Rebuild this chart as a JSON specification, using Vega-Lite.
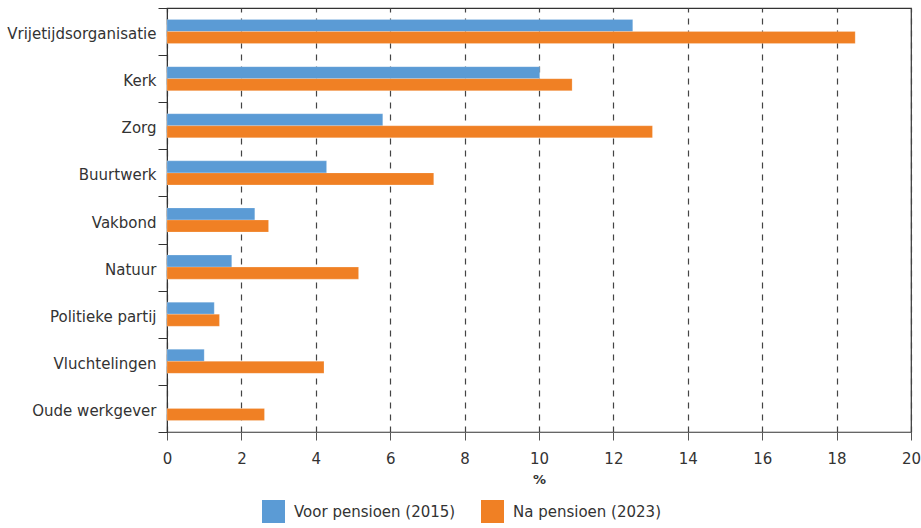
{
  "$schema": "https://vega.github.io/schema/vega-lite/v6.json",
  "autosize": {"type": "none"},
  "padding": {"left": 167, "top": 8, "right": 10, "bottom": 96},
  "width": 744,
  "height": 424,
  "background": "white",
  "config": {
    "font": "DejaVu Sans",
    "view": {"stroke": "#333", "strokeWidth": 1.2},
    "axis": {"labelColor": "#333", "titleColor": "#333", "labelFont": "DejaVu Sans", "titleFont": "DejaVu Sans"},
    "legend": {"labelFont": "DejaVu Sans"}
  },
  "data": {
    "values": [
      {"categorie": "Vrijetijdsorganisatie", "reeks": "Voor pensioen (2015)", "waarde": 12.52},
      {"categorie": "Vrijetijdsorganisatie", "reeks": "Na pensioen (2023)", "waarde": 18.5},
      {"categorie": "Kerk", "reeks": "Voor pensioen (2015)", "waarde": 10.02},
      {"categorie": "Kerk", "reeks": "Na pensioen (2023)", "waarde": 10.89},
      {"categorie": "Zorg", "reeks": "Voor pensioen (2015)", "waarde": 5.8},
      {"categorie": "Zorg", "reeks": "Na pensioen (2023)", "waarde": 13.05},
      {"categorie": "Buurtwerk", "reeks": "Voor pensioen (2015)", "waarde": 4.29},
      {"categorie": "Buurtwerk", "reeks": "Na pensioen (2023)", "waarde": 7.17},
      {"categorie": "Vakbond", "reeks": "Voor pensioen (2015)", "waarde": 2.36},
      {"categorie": "Vakbond", "reeks": "Na pensioen (2023)", "waarde": 2.73},
      {"categorie": "Natuur", "reeks": "Voor pensioen (2015)", "waarde": 1.74},
      {"categorie": "Natuur", "reeks": "Na pensioen (2023)", "waarde": 5.15},
      {"categorie": "Politieke partij", "reeks": "Voor pensioen (2015)", "waarde": 1.27},
      {"categorie": "Politieke partij", "reeks": "Na pensioen (2023)", "waarde": 1.41},
      {"categorie": "Vluchtelingen", "reeks": "Voor pensioen (2015)", "waarde": 1.0},
      {"categorie": "Vluchtelingen", "reeks": "Na pensioen (2023)", "waarde": 4.22},
      {"categorie": "Oude werkgever", "reeks": "Na pensioen (2023)", "waarde": 2.62}
    ]
  },
  "mark": {"type": "bar", "stroke": "white", "strokeOpacity": 0.4, "strokeWidth": 0.5},
  "encoding": {
    "y": {
      "field": "categorie",
      "type": "nominal",
      "sort": ["Vrijetijdsorganisatie", "Kerk", "Zorg", "Buurtwerk", "Vakbond", "Natuur", "Politieke partij", "Vluchtelingen", "Oude werkgever"],
      "scale": {"paddingInner": 0, "paddingOuter": 0},
      "axis": {
        "title": null,
        "tickBand": "extent",
        "tickSize": 9,
        "tickColor": "#333",
        "domainColor": "#333",
        "labelFontSize": 15,
        "labelPadding": 2,
        "labelOffset": 2,
        "grid": false
      }
    },
    "yOffset": {
      "field": "reeks",
      "type": "nominal",
      "sort": ["Voor pensioen (2015)", "Na pensioen (2023)"],
      "scale": {"paddingInner": 0, "paddingOuter": 0.96}
    },
    "x": {
      "field": "waarde",
      "type": "quantitative",
      "scale": {"domain": [0, 20], "nice": false},
      "axis": {
        "title": "%",
        "titleFontSize": 13,
        "titleFontWeight": "bold",
        "titlePadding": 7,
        "values": [0, 2, 4, 6, 8, 10, 12, 14, 16, 18, 20],
        "tickSize": 8,
        "tickColor": "#555",
        "domainColor": "#666",
        "labelFontSize": 15,
        "labelPadding": 11,
        "labelFlush": false,
        "grid": true,
        "gridDash": [6, 6],
        "gridColor": "#444",
        "gridWidth": 1.2
      }
    },
    "color": {
      "field": "reeks",
      "type": "nominal",
      "scale": {"domain": ["Voor pensioen (2015)", "Na pensioen (2023)"], "range": ["#5b9bd5", "#f08024"]},
      "legend": {
        "title": null,
        "orient": "none",
        "direction": "horizontal",
        "legendX": 95,
        "legendY": 492,
        "symbolType": "square",
        "symbolSize": 529,
        "symbolStrokeWidth": 0,
        "symbolOpacity": 1,
        "labelFontSize": 15,
        "labelColor": "#333",
        "labelOffset": 9,
        "labelLimit": 400,
        "columnPadding": 25
      }
    }
  }
}
